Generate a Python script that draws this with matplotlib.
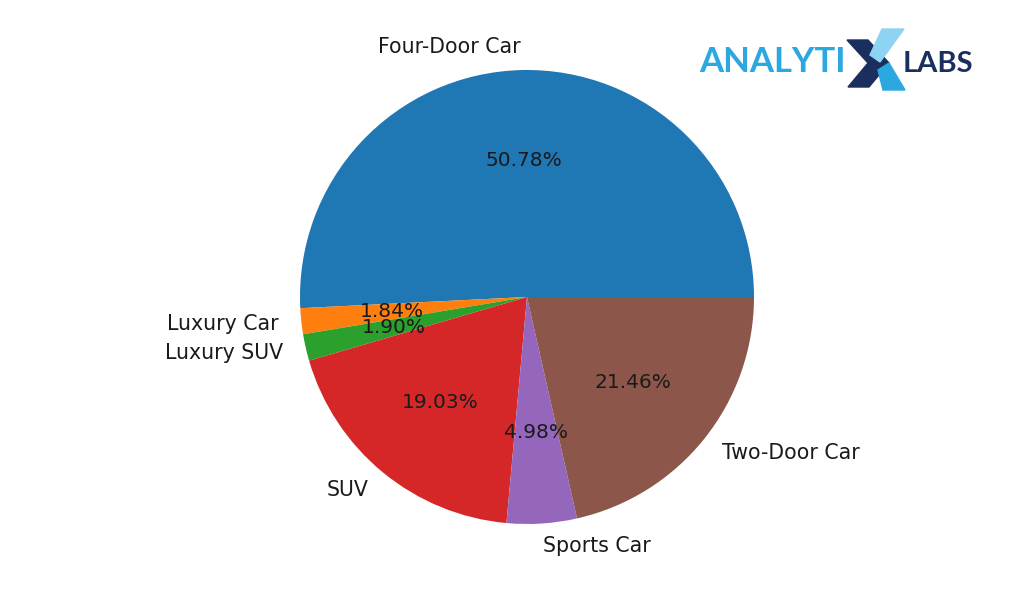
import matplotlib.pyplot as plt
from matplotlib.patches import Polygon

labels = ["Four-Door Car", "Luxury Car", "Luxury SUV", "SUV", "Sports Car", "Two-Door Car"]
shares = [50.78, 1.84, 1.90, 19.03, 4.98, 21.46]
total = sum(shares)

fig = plt.figure(figsize=(10.24, 5.97), dpi=100)
# pie centre ~ (527, 300 from bottom), radius ~227 px; pie uses limits +-1.25
half = 227 * 1.25
ax = fig.add_axes([(527 - half) / 1024, (300 - half) / 597, 2 * half / 1024, 2 * half / 597])
wedges, texts, autotexts = ax.pie(shares, labels=labels,
                                  autopct=lambda p: f"{p * total / 100:.2f}%",
                                  textprops={"fontsize": 14.8, "color": "#1a1a1a"})
for t in autotexts:
    t.set_fontsize(14.5)
ax.set_aspect("equal")

# logo, top right (pixel coords, y down)
def px(pts):
    return [(x / 1024, 1 - y / 597) for x, y in pts]

fig.text(699 / 1024, 1 - 72 / 597, "ANALYTI", fontsize=25, color="#2ba8e0",
         family="Lato", weight="bold", ha="left", va="baseline")
fig.text(903 / 1024, 1 - 72 / 597, "LABS", fontsize=21, color="#1b2f5e",
         family="Lato", weight="bold", ha="left", va="baseline")
fig.patches.append(Polygon(px([(847, 40), (868, 40), (889, 63), (869, 87), (848, 87), (868, 63)]),
                           closed=True, color="#1b2f5e", transform=fig.transFigure))
fig.patches.append(Polygon(px([(882, 29), (904, 29), (880, 62), (870, 55)]),
                           closed=True, color="#8fd3f2", transform=fig.transFigure))
fig.patches.append(Polygon(px([(878, 70), (889, 63), (905, 90), (883, 90)]),
                           closed=True, color="#2ba8e0", transform=fig.transFigure))

plt.savefig("out.png", dpi=100)
